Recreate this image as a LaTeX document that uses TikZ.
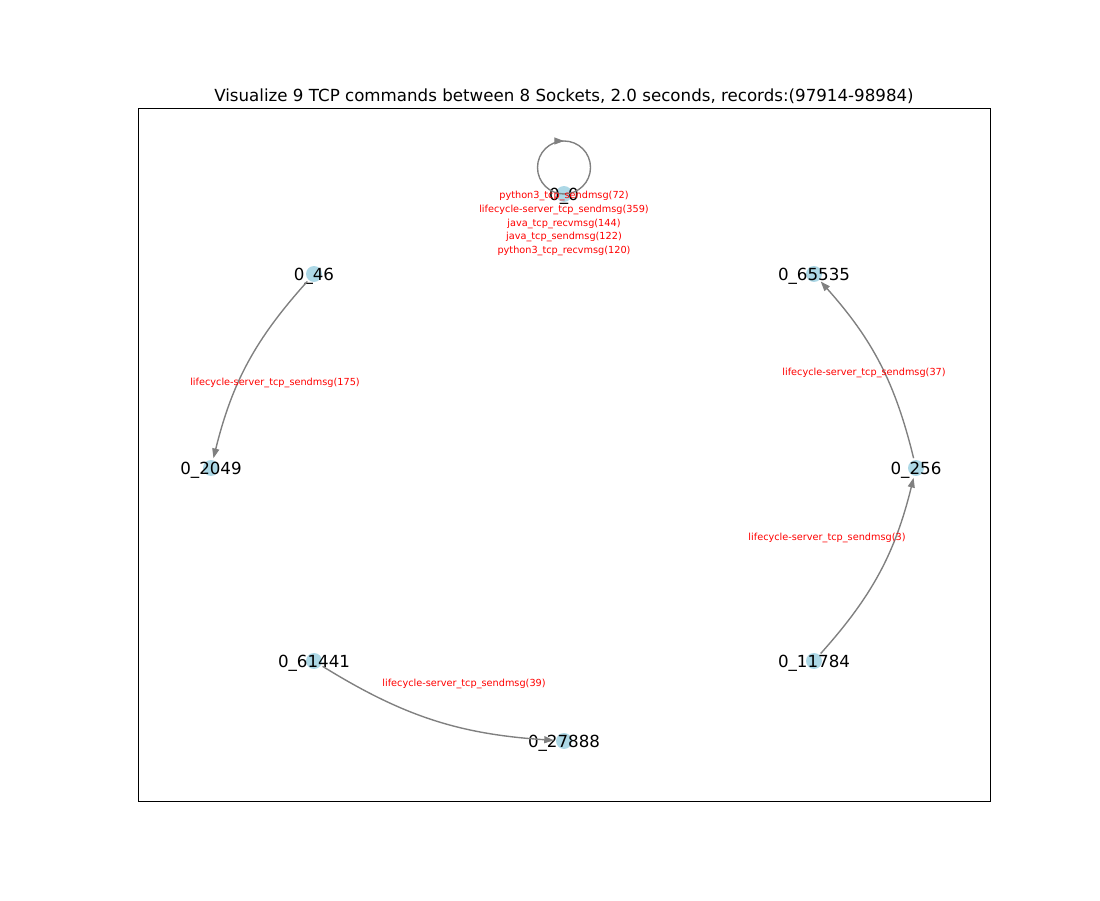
\documentclass[tikz,border=0pt]{standalone}
\usepackage{fontspec}
\setmainfont{DejaVu Sans}
\usetikzlibrary{arrows.meta,decorations.markings}
\definecolor{sockblue}{RGB}{173,216,230}

\begin{document}
\begin{tikzpicture}[
        x=0.72pt, y=0.72pt,
        sock/.style = {circle, fill=sockblue, minimum size=11.5pt, inner sep=0pt, outer sep=1.5pt, node contents={},
                       label={[font=\fontsize{12}{14}\selectfont, yshift=-1.4pt]center:#1}},
        cmd/.style = {text=red, font=\fontsize{7}{9.9}\selectfont, align=center, inner sep=0pt},
        flow/.style = {->, draw=gray, line width=1pt},
        >={Triangle[length=7pt, width=5pt]}
        ]

        \useasboundingbox (0,0) rectangle (1100,900);
        \draw[line width=0.7pt] (138,99) rectangle (990,792);
        \node (title) at (564,804) [font=\fontsize{12}{14}\selectfont] {Visualize 9 TCP commands between 8 Sockets, 2.0 seconds, records:(97914-98984)};

        \node (s0) at (564,706)     [sock=0\_0];
        \node (s46) at (314,626)    [sock=0\_46];
        \node (s65535) at (814,626) [sock=0\_65535];
        \node (s2049) at (211,432)  [sock=0\_2049];
        \node (s256) at (916,432)   [sock=0\_256];
        \node (s61441) at (314,239) [sock=0\_61441];
        \node (s11784) at (814,239) [sock=0\_11784];
        \node (s27888) at (564,159) [sock=0\_27888];

        \draw[flow] (s46) to[bend right=14] (s2049);
        \draw[flow] (s256) to[bend right=14] (s65535);
        \draw[flow] (s11784) to[bend right=14] (s256);
        \draw[flow] (s61441) to[bend right=14] (s27888);
        \draw[draw=gray, line width=1pt, postaction=decorate,
              decoration={markings, mark=at position 0.5 with {\arrow{>}}}]
              (s0.center) arc[start angle=-90, delta angle=-360, radius=26.5];

        \node (c175) at (275,517) [cmd] {lifecycle-server\_tcp\_sendmsg(175)};
        \node (c37) at (864,527)  [cmd] {lifecycle-server\_tcp\_sendmsg(37)};
        \node (c3) at (827,362)   [cmd] {lifecycle-server\_tcp\_sendmsg(3)};
        \node (c39) at (464,216)  [cmd] {lifecycle-server\_tcp\_sendmsg(39)};
        \node (cloop) at (564,676.5) [cmd] {python3\_tcp\_sendmsg(72)\\lifecycle-server\_tcp\_sendmsg(359)\\java\_tcp\_recvmsg(144)\\java\_tcp\_sendmsg(122)\\python3\_tcp\_recvmsg(120)};
    \end{tikzpicture}
\end{document}
